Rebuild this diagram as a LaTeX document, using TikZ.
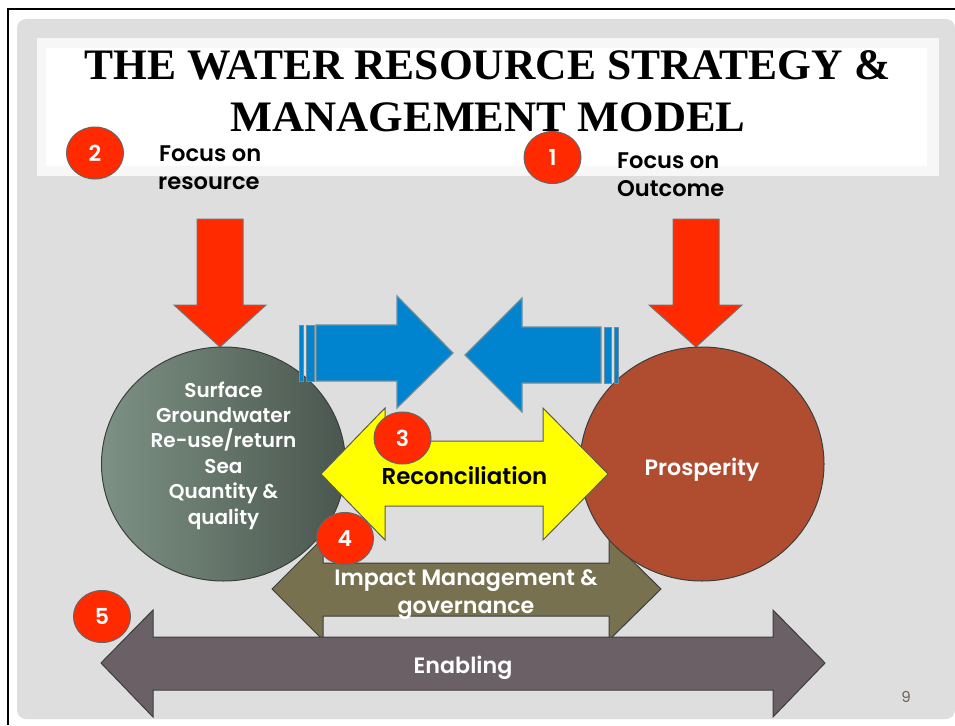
\documentclass[tikz,border=0pt]{standalone}
\usepackage{fontspec}
\setmainfont{Liberation Serif}
\newfontfamily\gothicb{Poppins SemiBold}
\newfontfamily\gothic{Poppins}
\usetikzlibrary{shapes.geometric}
\definecolor{slidegray}{HTML}{DEDEDE}
\definecolor{bandgray}{HTML}{F7F7F7}
\definecolor{redfill}{HTML}{FF2A00}
\definecolor{bluefill}{HTML}{0084CF}
\definecolor{blueline}{HTML}{6E8E9C}
\definecolor{brick}{HTML}{B04D31}
\definecolor{olivefill}{HTML}{787150}
\definecolor{enablefill}{HTML}{6B6065}
\definecolor{darkline}{HTML}{3A3F3C}
\definecolor{pagenum}{HTML}{6B6055}
\definecolor{greenlight}{HTML}{7D9184}
\definecolor{greendark}{HTML}{4A564E}
\definecolor{yellowfill}{HTML}{FFFF00}
\tikzset{
  x=1pt,y=-1pt,
  redarrow/.style={fill=redfill,draw=black!55,line width=1pt,line join=miter},
  bluearrow/.style={fill=bluefill,draw=blueline,line width=1.2pt},
  stripe/.style={fill=bluefill,draw=blueline,line width=1pt},
  yellowarrow/.style={fill=yellowfill,draw=black!65,line width=1pt},
  olivearrow/.style={fill=olivefill,draw=darkline,line width=1pt},
  enablearrow/.style={fill=enablefill,draw=darkline,line width=1pt},
  bigcircle/.style={draw=darkline,line width=1pt,ellipse,minimum width=244pt,minimum height=234pt,inner sep=0pt},
  badge/.style={ellipse,fill=redfill,draw=black!60,line width=1pt,minimum width=57pt,minimum height=52pt,inner sep=0pt,text=white,font=\gothicb\fontsize{22}{22}\selectfont},
  titletext/.style={anchor=base,inner sep=0pt,font=\bfseries\fontsize{43.5}{43.5}\selectfont},
  lbl/.style={anchor=base,inner sep=0pt,text=white,font=\gothicb\fontsize{20}{20}\selectfont},
  widelbl/.style={anchor=base,inner sep=0pt,text=white,font=\gothicb\fontsize{22.2}{22.2}\selectfont},
  focustext/.style={anchor=base west,inner sep=0pt,text=black,font=\gothicb\fontsize{22.6}{22.6}\selectfont},
}
\begin{document}
\begin{tikzpicture}
\useasboundingbox (0,0) rectangle (955,725);
\fill[white] (0,0) rectangle (955,725);
\draw[black,line width=2pt] (8,725) -- (8,9) -- (955,9);
\fill[slidegray,rounded corners=9pt] (17,19) rectangle (955,719);
\fill[bandgray] (37,38) rectangle (939,176);
\fill[white] (46,48) rectangle (927,166);
\node[titletext] (t1) at (487.5,79.5) {THE WATER RESOURCE STRATEGY \&};
\node[titletext,xscale=1.022] (t2) at (488,131) {MANAGEMENT MODEL};
% red arrows
\draw[redarrow] (197,219) -- (243,219) -- (243,305) -- (266,305) -- (220,347) -- (174,305) -- (197,305) -- cycle;
\draw[redarrow] (673,219) -- (719,219) -- (719,305) -- (742,305) -- (696,347) -- (649,305) -- (673,305) -- cycle;
% olive arrow
\draw[olivearrow] (272,589) -- (323,538) -- (323,563) -- (609,563) -- (609,538) -- (661,589) -- (609,640) -- (609,616) -- (323,616) -- (323,640) -- cycle;
% circles
\node[bigcircle,left color=greenlight,right color=greendark] (surface) at (223.5,464) {};
\node[bigcircle,fill=brick] (prosperity) at (702,464) {};
% blue arrows
\draw[bluearrow] (316,325) -- (397,325) -- (397,296) -- (453,353) -- (397,408) -- (397,381) -- (316,381) -- cycle;
\draw[stripe] (299,325) rectangle (303,381);
\draw[stripe] (306,325) rectangle (314,381);
\draw[bluearrow] (601,327) -- (522,327) -- (522,298) -- (465,355) -- (522,412) -- (522,383) -- (601,383) -- cycle;
\draw[stripe] (604,327) rectangle (611,383);
\draw[stripe] (614,327) rectangle (618,383);
% yellow arrow
\draw[yellowarrow] (321,474) -- (385,408) -- (385,441) -- (543,441) -- (543,408) -- (608,474) -- (543,540) -- (543,506) -- (385,506) -- (385,540) -- cycle;
% enabling arrow
\draw[enablearrow] (101,663) -- (153,610) -- (153,637) -- (773,637) -- (773,610) -- (825,663) -- (773,717) -- (773,690) -- (153,690) -- (153,717) -- cycle;
% badges
\node[badge] (b2) at (95,153) {2};
\node[badge] (b1) at (552.5,157.5) {1};
\node[badge] (b3) at (402.5,438) {3};
\node[badge] (b4) at (345,538.5) {4};
\node[badge] (b5) at (102,616.5) {5};
% labels
\node[focustext] (f1) at (159,161) {Focus on};
\node[focustext] (f2) at (158,189) {resource};
\node[focustext] (f3) at (617,168) {Focus on};
\node[focustext] (f4) at (617,196) {Outcome};
\node[lbl] (s1) at (223.5,397) {Surface};
\node[lbl] (s2) at (223.5,422) {Groundwater};
\node[lbl] (s3) at (223.5,447) {Re-use/return};
\node[lbl] (s4) at (223.5,473) {Sea};
\node[lbl] (s5) at (223.5,498) {Quantity \&};
\node[lbl] (s6) at (223.5,524) {quality};
\node[widelbl] (p1) at (702,475) {Prosperity};
\node[widelbl,text=black,font=\gothicb\fontsize{22.9}{22.9}\selectfont] (r1) at (464.5,484) {Reconciliation};
\node[widelbl] (i1) at (466,585) {Impact Management \&};
\node[widelbl] (i2) at (466,613) {governance};
\node[widelbl] (e1) at (463,673) {Enabling};
\node[anchor=base,inner sep=0pt,text=pagenum,font=\gothic\fontsize{15}{15}\selectfont] (n9) at (906,702) {9};
\end{tikzpicture}
\end{document}
